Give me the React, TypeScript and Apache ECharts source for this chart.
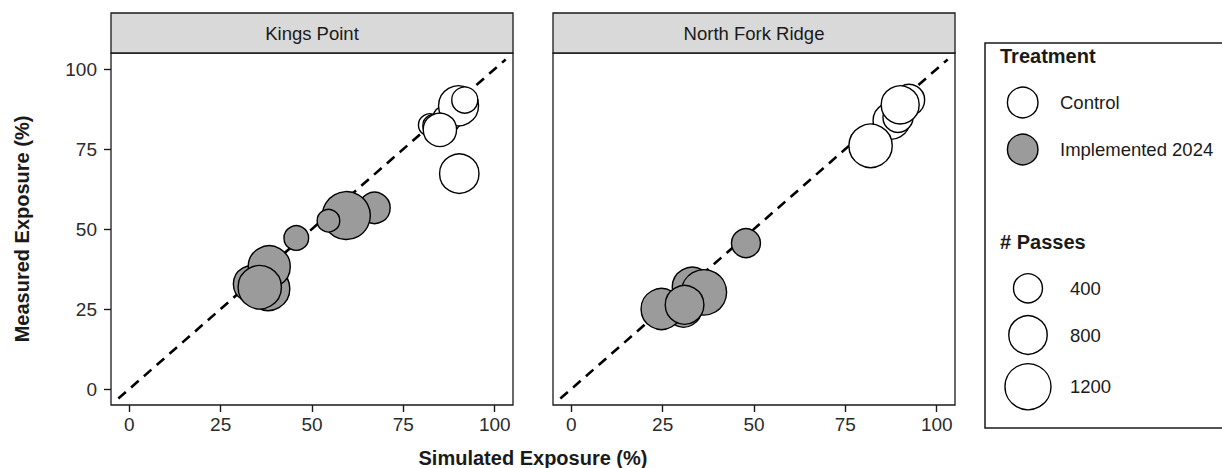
import React, { useEffect, useRef } from "react";
import * as echarts from "echarts";

// ---------- data ----------
const panels = ["Kings Point", "North Fork Ridge"];
const tickValues = [0, 25, 50, 75, 100];
const treatments = ["Control", "Implemented 2024"];
const passBreaks = [400, 800, 1200];
const oneToOne = [-3, 103];

// Kings Point
const kpControlSim = [82.2, 83.4, 86.9, 90.1, 91.8, 85.0, 90.3];
const kpControlMeas = [82.5, 82.3, 84.4, 88.5, 90.3, 81.0, 67.3];
const kpControlPasses = [190, 190, 365, 875, 300, 570, 845];

const kpImplSim = [67.1, 59.4, 54.5, 45.7, 38.0, 33.5, 38.3, 35.7];
const kpImplMeas = [56.6, 54.2, 52.6, 47.2, 31.3, 32.8, 38.2, 31.8];
const kpImplPasses = [490, 1315, 195, 255, 1050, 715, 980, 1050];

// North Fork Ridge
const nfControlSim = [87.6, 89.4, 92.4, 90.0, 81.9];
const nfControlMeas = [83.8, 84.9, 90.3, 88.8, 76.0];
const nfControlPasses = [715, 440, 490, 778, 1050];

const nfImplSim = [47.8, 33.1, 30.7, 36.3, 24.7, 31.0];
const nfImplMeas = [45.6, 31.8, 25.0, 30.2, 25.0, 26.3];
const nfImplPasses = [400, 875, 700, 1160, 925, 810];

// ---------- styling ----------
const FONT = "'Liberation Sans', Arial, Helvetica, sans-serif";
const INK = "#1a1a1a";
const FILLS = ["#ffffff", "#9b9b9b"];
const sizeOf = (passes: number) => 2 * Math.sqrt(50 + 0.4 * passes);

const zip = (xs: number[], ys: number[], ps: number[]) =>
  xs.map((x, i) => [x, ys[i], ps[i]]);

const GRID_TOP = 53;
const GRID_H = 352;
const GRID_W = 402;
const GRID_LEFTS = [111, 553];

export default function App() {
  const ref = useRef<HTMLDivElement>(null);

  useEffect(() => {
    document.body.style.margin = "0";
    if (!ref.current) return;
    const chart = echarts.init(ref.current, undefined, { renderer: "svg" });

    const panelData = [
      [zip(kpControlSim, kpControlMeas, kpControlPasses), zip(kpImplSim, kpImplMeas, kpImplPasses)],
      [zip(nfControlSim, nfControlMeas, nfControlPasses), zip(nfImplSim, nfImplMeas, nfImplPasses)],
    ];

    const grids = GRID_LEFTS.map((left) => ({
      left,
      top: GRID_TOP,
      width: GRID_W,
      height: GRID_H,
      show: true,
      backgroundColor: "#ffffff",
      borderColor: INK,
      borderWidth: 1.3,
      containLabel: false,
    }));

    const xAxes = panels.map((_, i) => ({
      gridIndex: i,
      type: "value",
      min: -5,
      max: 105,
      axisLine: { show: false, onZero: false },
      axisTick: {
        show: true,
        length: 7,
        customValues: tickValues,
        lineStyle: { color: INK, width: 1.4 },
      },
      axisLabel: {
        customValues: tickValues,
        fontSize: 19,
        color: "#2b2b2b",
        fontFamily: FONT,
        margin: 10,
      },
      splitLine: { show: false },
    }));

    const yAxes = panels.map((_, i) => ({
      gridIndex: i,
      type: "value",
      min: -5,
      max: 105,
      name: i === 0 ? "Measured Exposure (%)" : "",
      nameLocation: "middle",
      nameGap: 79,
      nameRotate: 90,
      nameTextStyle: { fontSize: 20, fontWeight: "bold", color: INK, fontFamily: FONT },
      axisLine: { show: false, onZero: false },
      axisTick: {
        show: i === 0,
        length: 7,
        customValues: tickValues,
        lineStyle: { color: INK, width: 1.4 },
      },
      axisLabel: {
        show: i === 0,
        customValues: tickValues,
        fontSize: 19,
        color: "#2b2b2b",
        fontFamily: FONT,
        margin: 14,
      },
      splitLine: { show: false },
    }));

    const series: any[] = [];
    panels.forEach((_, i) => {
      series.push({
        type: "line",
        xAxisIndex: i,
        yAxisIndex: i,
        data: [
          [oneToOne[0], oneToOne[0]],
          [oneToOne[1], oneToOne[1]],
        ],
        symbol: "none",
        silent: true,
        z: 1,
        lineStyle: { color: "#000", width: 2.6, type: [10, 7] },
      });
      treatments.forEach((t, k) => {
        series.push({
          type: "scatter",
          name: t,
          xAxisIndex: i,
          yAxisIndex: i,
          data: panelData[i][k],
          symbol: "circle",
          symbolSize: (v: number[]) => sizeOf(v[2]),
          z: 3,
          itemStyle: { color: FILLS[k], borderColor: "#000", borderWidth: 1.4, opacity: 1 },
        });
      });
    });

    const graphic: any[] = [];
    // strips
    panels.forEach((p, i) => {
      graphic.push({
        type: "rect",
        shape: { x: GRID_LEFTS[i], y: 13, width: GRID_W, height: GRID_TOP - 13 },
        style: { fill: "#d9d9d9", stroke: INK, lineWidth: 1.3 },
        z: 10,
      });
      graphic.push({
        type: "text",
        x: GRID_LEFTS[i] + GRID_W / 2,
        y: 33,
        style: {
          text: p,
          fontSize: 18.5,
          fontFamily: FONT,
          fill: "#1a1a1a",
          align: "center",
          verticalAlign: "middle",
        },
        z: 11,
      });
    });
    // x title
    graphic.push({
      type: "text",
      x: (GRID_LEFTS[0] + GRID_LEFTS[1] + GRID_W) / 2,
      y: 458,
      style: {
        text: "Simulated Exposure (%)",
        fontSize: 20,
        fontWeight: "bold",
        fontFamily: FONT,
        fill: INK,
        align: "center",
        verticalAlign: "middle",
      },
    });
    // legend box
    graphic.push({
      type: "rect",
      shape: { x: 985, y: 43, width: 270, height: 385 },
      style: { fill: "#ffffff", stroke: INK, lineWidth: 1.5 },
      z: 10,
    });
    graphic.push({
      type: "text",
      x: 1000,
      y: 56,
      style: { text: "Treatment", fontSize: 20, fontWeight: "bold", fontFamily: FONT, fill: INK, verticalAlign: "middle" },
      z: 11,
    });
    treatments.forEach((t, k) => {
      const cy = 102.5 + k * 47;
      graphic.push({
        type: "circle",
        shape: { cx: 1022.7, cy, r: 15.3 },
        style: { fill: FILLS[k], stroke: "#000", lineWidth: 1.4 },
        z: 11,
      });
      graphic.push({
        type: "text",
        x: 1060,
        y: cy,
        style: { text: t, fontSize: 18.5, fontFamily: FONT, fill: "#1a1a1a", verticalAlign: "middle" },
        z: 11,
      });
    });
    graphic.push({
      type: "text",
      x: 1000,
      y: 242,
      style: { text: "# Passes", fontSize: 20, fontWeight: "bold", fontFamily: FONT, fill: INK, verticalAlign: "middle" },
      z: 11,
    });
    const passY = [288.3, 335, 386.7];
    passBreaks.forEach((b, k) => {
      graphic.push({
        type: "circle",
        shape: { cx: 1028, cy: passY[k], r: sizeOf(b) / 2 },
        style: { fill: "#ffffff", stroke: "#000", lineWidth: 1.4 },
        z: 11,
      });
      graphic.push({
        type: "text",
        x: 1070,
        y: passY[k],
        style: { text: String(b), fontSize: 18.5, fontFamily: FONT, fill: "#1a1a1a", verticalAlign: "middle" },
        z: 11,
      });
    });

    chart.setOption({
      animation: false,
      backgroundColor: "#ffffff",
      textStyle: { fontFamily: FONT },
      grid: grids,
      xAxis: xAxes,
      yAxis: yAxes,
      series,
      graphic,
    });

    return () => chart.dispose();
  }, []);

  return <div ref={ref} style={{ width: 1222, height: 468 }} />;
}
